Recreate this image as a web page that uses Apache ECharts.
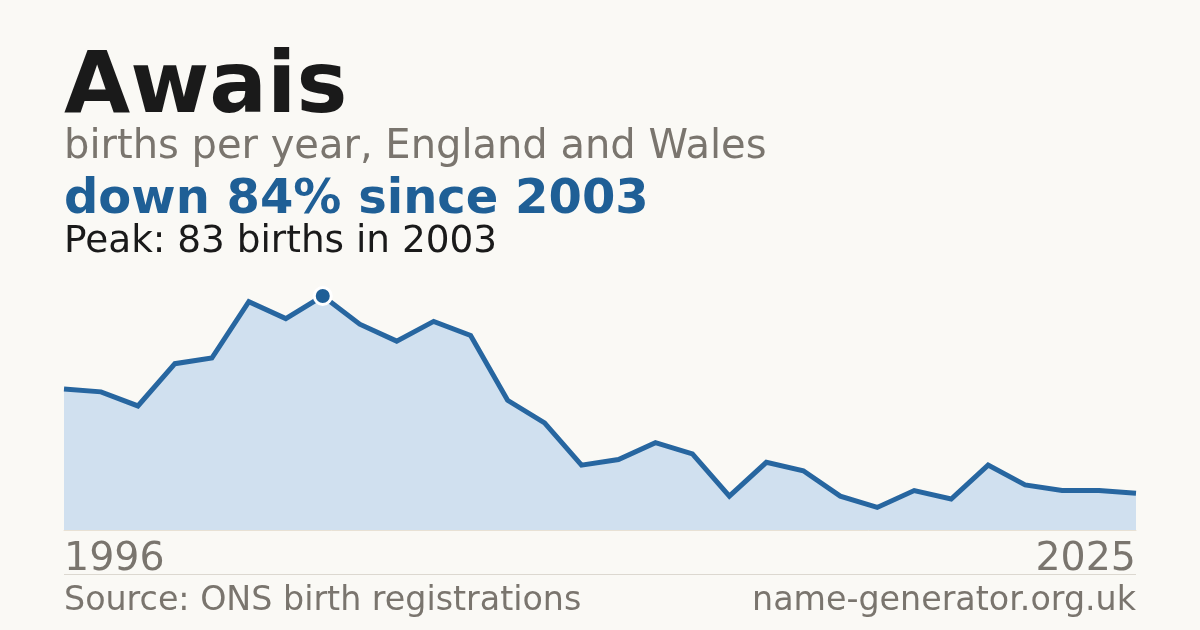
<!DOCTYPE html>
<html>
<head>
<meta charset="utf-8">
<script src="https://cdn.jsdelivr.net/npm/echarts@6/dist/echarts.min.js"></script>
<style>
html,body{margin:0;padding:0;background:#faf9f5;}
#c{width:1200px;height:630px;}
</style>
</head>
<body>
<div id="c"></div>
<script>
const name = 'Awais';
const years = ['1996','1997','1998','1999','2000','2001','2002','2003','2004','2005','2006','2007','2008','2009','2010','2011','2012','2013','2014','2015','2016','2017','2018','2019','2020','2021','2022','2023','2024','2025'];
const births = [50,49,44,59,61,81,75,83,73,67,74,69,46,38,23,25,31,27,12,24,21,12,8,14,11,23,16,14,14,13];

const peak = Math.max(...births);
const peakYear = years[births.indexOf(peak)];
const last = births[births.length - 1];
const pct = Math.round((1 - last / peak) * 100);

const FONT = '"DejaVu Sans", sans-serif';
const GRAY = '#7a756e';
const BLUE = '#1f5f96';

const chart = echarts.init(document.getElementById('c'), null, {renderer: 'canvas'});
chart.setOption({
  backgroundColor: '#faf9f5',
  animation: false,
  grid: {left: 64, right: 64, top: 296, bottom: 100},
  xAxis: {
    type: 'category',
    data: years,
    boundaryGap: false,
    axisLine: {show: true, lineStyle: {color: '#e8e1d4', width: 1}},
    axisTick: {show: false},
    splitLine: {show: false},
    axisLabel: {
      interval: (i) => i === 0 || i === years.length - 1,
      margin: 29.5,
      fontFamily: FONT,
      fontSize: 39.5,
      color: GRAY,
      verticalAlign: 'middle',
      alignMinLabel: 'left',
      alignMaxLabel: 'right'
    }
  },
  yAxis: {
    type: 'value',
    min: 0,
    max: peak,
    show: false,
    splitLine: {show: false}
  },
  series: [{
    type: 'line',
    data: births,
    showSymbol: false,
    symbol: 'none',
    lineStyle: {color: '#2766a0', width: 5, join: 'miter'},
    areaStyle: {color: '#d0e0ef', opacity: 1},
    markPoint: {
      symbol: 'circle',
      symbolSize: 17,
      data: [{type: 'max'}],
      label: {show: false},
      itemStyle: {color: BLUE, borderColor: '#ffffff', borderWidth: 3}
    }
  }],
  graphic: [
    {type: 'text', x: 64, y: 89.8, style: {text: name, font: 'bold 85.6px ' + FONT, fill: '#1a1a1a', textVerticalAlign: 'middle'}},
    {type: 'text', x: 64, y: 147.4, style: {text: 'births per year, England and Wales', font: '40px ' + FONT, fill: GRAY, textVerticalAlign: 'middle'}},
    {type: 'text', x: 64, y: 200.4, style: {text: 'down ' + pct + '% since ' + peakYear, font: 'bold 48px ' + FONT, fill: BLUE, textVerticalAlign: 'middle'}},
    {type: 'text', x: 64, y: 242, style: {text: 'Peak: ' + peak + ' births in ' + peakYear, font: '37.4px ' + FONT, fill: '#1a1a1a', textVerticalAlign: 'middle'}},
    {type: 'line', shape: {x1: 64, y1: 574.5, x2: 1136, y2: 574.5}, style: {stroke: '#dcd8d0', lineWidth: 1}},
    {type: 'text', x: 64, y: 601.5, style: {text: 'Source: ONS birth registrations', font: '33.3px ' + FONT, fill: GRAY, textVerticalAlign: 'middle'}},
    {type: 'text', x: 1136, y: 601.5, style: {text: 'name-generator.org.uk', font: '33.3px ' + FONT, fill: GRAY, textAlign: 'right', textVerticalAlign: 'middle'}}
  ]
});
</script>
</body>
</html>
